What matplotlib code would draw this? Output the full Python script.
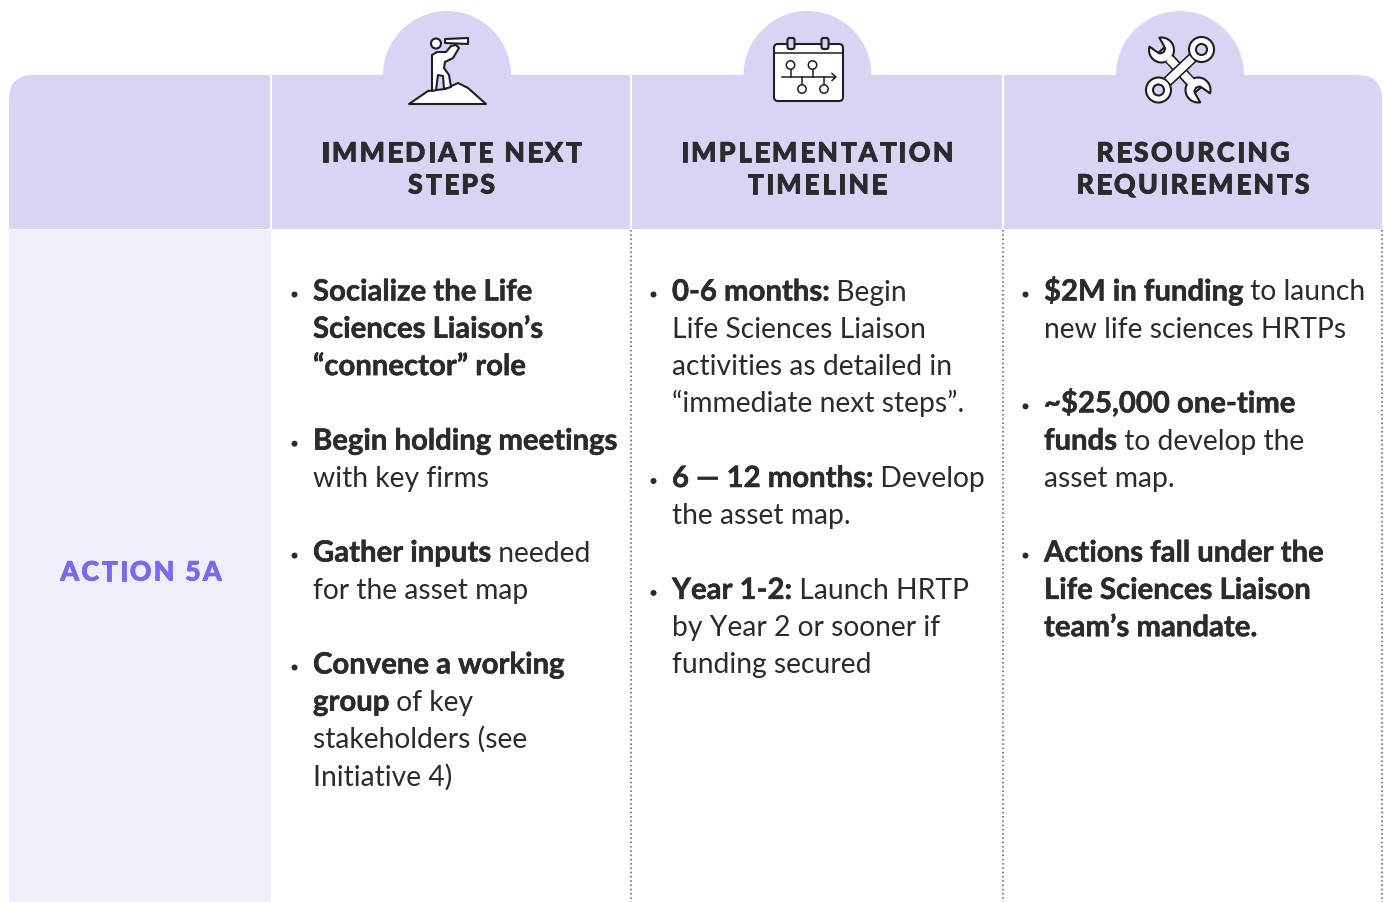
import matplotlib
matplotlib.use("Agg")
import matplotlib.pyplot as plt
import matplotlib.patheffects as pe
from matplotlib.patches import Circle, Rectangle, FancyBboxPatch, Polygon, PathPatch
from matplotlib.path import Path
import numpy as np

FONT = "Lato"
HEAD = "#d9d4f4"
SIDE = "#f0eefb"
INK = "#2b2b2e"
ACCENT = "#7b68ee"

headers = [["IMMEDIATE NEXT", "STEPS"], ["IMPLEMENTATION", "TIMELINE"], ["RESOURCING", "REQUIREMENTS"]]
action_label = "ACTION 5A"

# each line: (bullet?, [(text, bold), ...])
col1 = [
    (True, [("Socialize the Life", True)]),
    (False, [("Sciences Liaison’s", True)]),
    (False, [("“connector” role", True)]),
    (None, []),
    (True, [("Begin holding meetings", True)]),
    (False, [("with key firms", False)]),
    (None, []),
    (True, [("Gather inputs", True), (" needed", False)]),
    (False, [("for the asset map", False)]),
    (None, []),
    (True, [("Convene a working", True)]),
    (False, [("group", True), (" of key", False)]),
    (False, [("stakeholders (see", False)]),
    (False, [("Initiative 4)", False)]),
]
col2 = [
    (True, [("0-6 months:", True), (" Begin", False)]),
    (False, [("Life Sciences Liaison", False)]),
    (False, [("activities as detailed in", False)]),
    (False, [("“immediate next steps”.", False)]),
    (None, []),
    (True, [("6 — 12 months:", True), (" Develop", False)]),
    (False, [("the asset map.", False)]),
    (None, []),
    (True, [("Year 1-2:", True), (" Launch HRTP", False)]),
    (False, [("by Year 2 or sooner if", False)]),
    (False, [("funding secured", False)]),
]
col3 = [
    (True, [("$2M in funding", True), (" to launch", False)]),
    (False, [("new life sciences HRTPs", False)]),
    (None, []),
    (True, [("~$25,000 one-time", True)]),
    (False, [("funds", True), (" to develop the", False)]),
    (False, [("asset map.", False)]),
    (None, []),
    (True, [("Actions fall under the", True)]),
    (False, [("Life Sciences Liaison", True)]),
    (False, [("team’s mandate.", True)]),
]
columns = [col1, col2, col3]
col_text_x = [313, 672, 1044]
col_centers = [451.5, 817, 1193]
icon_cx = [447, 807.5, 1180]

fig = plt.figure(figsize=(13.84, 9.02), dpi=100)
ax = fig.add_axes([0, 0, 1, 1])
ax.set_xlim(0, 1384)
ax.set_ylim(902, 0)
ax.axis("off")
R = fig.canvas.get_renderer()

# header band with rounded top corners
r = 24
L, Rt, T, B = 9, 1382, 75, 229
hp = Path(
    [(L, B), (L, T + r), (L, T), (L + r, T), (Rt - r, T), (Rt, T), (Rt, T + r), (Rt, B), (L, B)],
    [Path.MOVETO, Path.LINETO, Path.CURVE3, Path.CURVE3, Path.LINETO, Path.CURVE3, Path.CURVE3, Path.LINETO, Path.CLOSEPOLY],
)
ax.add_patch(PathPatch(hp, fc=HEAD, ec="none", zorder=1))
ax.add_patch(Rectangle((L, 230), 262, 672, fc=SIDE, ec="none", zorder=1))
for cx in icon_cx:
    ax.add_patch(Circle((cx, 75), 64, fc=HEAD, ec="none", zorder=1))
    ax.add_patch(Rectangle((cx - 64, 75), 128, 10, fc=HEAD, ec="none", zorder=1))

# separators
for x in [271, 631, 1002.5]:
    ax.plot([x, x], [75, 229], color="white", lw=1.5, zorder=2, solid_capstyle="butt")
for x in [631, 1002.5, 1381.5]:
    ax.plot([x, x], [230, 902], color="#555560", lw=1.1, ls=(0, (1, 1.8)), zorder=2)


def spaced(s, xc, y, size, color, spacing):
    kw = dict(family=FONT, fontsize=size, fontweight="black", color=color, va="baseline", ha="left", zorder=5)
    effect = [pe.withStroke(linewidth=0.6, foreground=color)]
    probe = ax.text(0, 0, "x", **kw)
    xw = probe.get_window_extent(R).width
    adv = []
    for i in range(len(s) + 1):
        probe.set_text(s[:i] + "x")
        adv.append(probe.get_window_extent(R).width - xw)
    probe.remove()
    total = adv[-1] + spacing * (len(s) - 1)
    x0 = xc - total / 2
    for i, ch in enumerate(s):
        if ch != " ":
            ax.text(x0 + adv[i] + spacing * i, y, ch, path_effects=effect, **kw)


for cx, lines in zip(col_centers, headers):
    spaced(lines[0], cx, 161.5, 19.2, INK, 2.45)
    spaced(lines[1], cx, 193.5, 19.2, INK, 2.45)

spaced(action_label, 141, 580.5, 19.2, ACCENT, 2.3)

LINE = 37.3
BODY = 20.3
BOLD = 21.1
bold_fx = [pe.withStroke(linewidth=0.35, foreground=INK)]
for lines, x0 in zip(columns, col_text_x):
    y = 300.5
    for bullet, runs in lines:
        if bullet is None:
            y += LINE
            continue
        if bullet:
            ax.add_patch(Circle((x0 - 18.5, y - 6), 3.0, fc=INK, ec="none", zorder=5))
        x = x0
        for i, (txt, bold) in enumerate(runs):
            weight = "bold" if bold else "normal"
            size = BOLD if bold else BODY
            ax.text(x, y, txt, family=FONT, fontsize=size, fontweight=weight, color=INK,
                    va="baseline", ha="left", zorder=5, path_effects=bold_fx if bold else None)
            if i + 1 < len(runs):
                probe = ax.text(0, 0, txt + "x", family=FONT, fontsize=size, fontweight=weight)
                probe2 = ax.text(0, 0, "x", family=FONT, fontsize=size, fontweight=weight)
                x += probe.get_window_extent(R).width - probe2.get_window_extent(R).width
                probe.remove()
                probe2.remove()
        y += LINE

# icons
LW = 1.5
K = "#1e1e24"
ln = dict(fc="white", ec=K, lw=LW, zorder=6, joinstyle="round")
# explorer
ax.add_patch(Polygon([(409, 104), (428, 91), (445, 89), (458, 83), (468, 88), (486, 104)], **ln))
ax.add_patch(Polygon([(432, 91), (432, 55), (437, 52), (446, 52), (451, 46), (456, 45), (459, 48), (453, 58), (445, 62), (444, 68), (449, 75), (451, 87), (444, 89), (443, 76), (438, 75), (436, 90)], **ln))
ax.add_patch(Circle((436, 43.5), 5, **ln))
ax.add_patch(Polygon([(445, 39), (468, 38), (468, 44), (445, 43)], **ln))

# calendar
ax.add_patch(FancyBboxPatch((774, 44), 69, 57, boxstyle="round,pad=0,rounding_size=4", **ln))
ax.plot([774, 843], [53, 53], color=K, lw=1.1, zorder=7)
for x in [791, 825]:
    ax.add_patch(FancyBboxPatch((x - 3.5, 38), 7, 11, boxstyle="round,pad=0,rounding_size=2", fc=HEAD, ec=K, lw=LW, zorder=7))
ax.plot([782, 835], [77, 77], color=K, lw=1.1, zorder=7)
ax.plot([832, 836, 832], [73.5, 77, 80.5], color=K, lw=1.1, zorder=7)
for x, y0, y1 in [(790.5, 65, 77), (812.5, 65, 77), (802, 77, 89), (824, 77, 89)]:
    ax.plot([x, x], [y0, y1], color=K, lw=1.1, zorder=7)
    ax.add_patch(Circle((x, y0 if y0 < 70 else y1), 4.2, fc="white", ec=K, lw=1.1, zorder=8))


# tools
def open_head(c, d, rad=12.5, half=5.0, z=6.5):
    c, d = np.array(c, float), np.array(d, float)
    d = d / np.linalg.norm(d)
    v = np.array([-d[1], d[0]])
    a0 = np.arctan2(d[1], d[0])
    gap = np.radians(32)
    th = np.linspace(a0 + gap, a0 + 2 * np.pi - gap, 40)
    arc = [c + rad * np.array([np.cos(t), np.sin(t)]) for t in th]
    notch = [c + d * 3 - v * half, c - d * 1.5 - v * half * 0.75, c - d * 3, c - d * 1.5 + v * half * 0.75, c + d * 3 + v * half]
    ax.add_patch(Polygon(arc + notch, fc="white", ec=K, lw=LW, zorder=z, joinstyle="round"))


def handle(p0, p1, w=4.5, z=6):
    p0, p1 = np.array(p0, float), np.array(p1, float)
    d = (p1 - p0) / np.linalg.norm(p1 - p0)
    n = np.array([-d[1], d[0]])
    ax.add_patch(Polygon([p0 + n * w, p1 + n * w, p1 - n * w, p0 - n * w], fc="white", ec=K, lw=LW, zorder=z))


# open-ended wrench (behind)
oa, ob = (1161.5, 50), (1198, 90)
handle(oa, ob)
open_head(oa, (-0.67, -0.74))
open_head(ob, (0.67, 0.74))
ax.plot([1169, 1191], [58.5, 82], color="white", lw=5.6, zorder=6.7, solid_capstyle="butt")

# ring wrench (in front)
ra, rb = (1201.5, 49.5), (1158.5, 90)
handle(ra, rb, z=7)
for c in (ra, rb):
    ax.add_patch(Circle(c, 12.5, fc="white", ec=K, lw=LW, zorder=8))
    ax.add_patch(Circle(c, 5.5, fc=HEAD, ec=K, lw=LW, zorder=9))
ax.plot([1168, 1192], [81, 58.5], color="white", lw=5.6, zorder=8.5, solid_capstyle="butt")

fig.savefig("out.png", dpi=100, facecolor="white")
